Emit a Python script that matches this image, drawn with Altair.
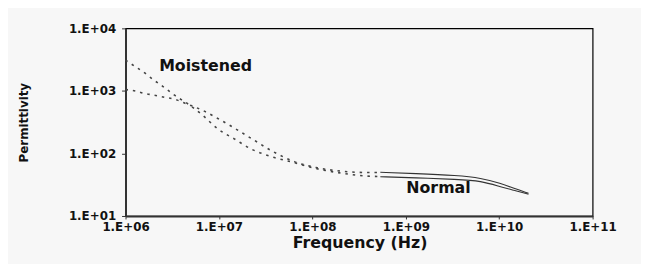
import altair as alt
import pandas as pd

# ---- data ----
lf_freq = [1.0e6, 1.28e6, 1.59e6, 1.98e6, 2.52e6, 3.38e6, 4.64e6, 6.68e6, 9.62e6,
           1.46e7, 2.26e7, 3.67e7, 6.42e7, 1.10e8, 2.01e8, 3.70e8, 5.34e8]
normal_lf = [1050, 995, 910, 861, 801, 731, 610, 490, 366,
             255, 171, 110, 74, 59.4, 52.3, 49.6, 49.6]
moist_lf = [3100, 2430, 1953, 1514, 1173, 846, 621, 409, 250,
            171, 116, 88.7, 71.3, 57.3, 48.6, 43.6, 42.8]

hf_freq = [5.34e8, 1.25e9, 3.56e9, 6.39e9, 1.04e10, 1.43e10, 2.06e10]
hf_upper = [50.1, 47.8, 44.4, 40.5, 33.2, 27.7, 23.1]
hf_lower = [42.4, 40.9, 38.4, 36.4, 29.2, 25.8, 22.3]

annot_text = ["Moistened", "Normal"]
annot_freq = [7.2e6, 2.24e9]
annot_perm = [2100, 23.1]

x_ticks = [1e6, 1e7, 1e8, 1e9, 1e10, 1e11]
x_tick_labels = ["1.E+06", "1.E+07", "1.E+08", "1.E+09", "1.E+10", "1.E+11"]
y_ticks = [1e1, 1e2, 1e3, 1e4]
y_tick_labels = ["1.E+01", "1.E+02", "1.E+03", "1.E+04"]

FONT = "DejaVu Sans"

lf = pd.DataFrame({
    "freq": lf_freq + lf_freq,
    "perm": normal_lf + moist_lf,
    "series": ["Normal"] * len(lf_freq) + ["Moistened"] * len(lf_freq),
})
hf = pd.DataFrame({
    "freq": hf_freq + hf_freq,
    "perm": hf_upper + hf_lower,
    "series": ["A"] * len(hf_freq) + ["B"] * len(hf_freq),
})
ann = pd.DataFrame({"text": annot_text, "freq": annot_freq, "perm": annot_perm})

def arr(labels):
    return "[" + ",".join("'%s'" % s for s in labels) + "]"

x_enc = alt.X(
    "freq:Q",
    scale=alt.Scale(type="log", domain=[1e6, 1e11], nice=False),
    axis=alt.Axis(
        values=x_ticks,
        labelExpr=arr(x_tick_labels) + "[round(log(datum.value)/LN10)-6]",
        title="Frequency (Hz)",
        titleFont=FONT, titleFontSize=16, titleFontWeight="bold", titleColor="#111",
        titleX=237, titleY=32, titleAlign="center", titleBaseline="alphabetic",
        labelFont=FONT, labelFontSize=12, labelFontWeight="bold", labelColor="#111",
        labelPadding=3, labelFlush=False, labelOverlap=False,
        tickSize=3, tickColor="#333", domainColor="#333", domainWidth=2, grid=False,
    ),
)
y_enc = alt.Y(
    "perm:Q",
    scale=alt.Scale(type="log", domain=[10, 10000], nice=False),
    axis=alt.Axis(
        values=y_ticks,
        labelExpr=arr(y_tick_labels) + "[round(log(datum.value)/LN10)-1]",
        title="Permittivity",
        titleFont=FONT, titleFontSize=12, titleFontWeight="bold", titleColor="#111",
        titleAngle=270, titleX=-103, titleY=95, titleAlign="center", titleBaseline="middle",
        labelFont=FONT, labelFontSize=12, labelFontWeight="bold", labelColor="#111",
        labelPadding=6, labelFlush=False, labelOverlap=False, labelBaseline="middle",
        tickSize=4, tickColor="#333", domainColor="#333", domainWidth=2, grid=False,
    ),
)

dotted = alt.Chart(lf).mark_line(
    strokeDash=[2.5, 5], strokeWidth=1.6, color="#444", interpolate="monotone"
).encode(x=x_enc, y=y_enc, detail="series:N")

solid = alt.Chart(hf).mark_line(
    strokeWidth=1.1, color="#333", interpolate="basis"
).encode(x="freq:Q", y="perm:Q", detail="series:N")

labels = alt.Chart(ann).mark_text(
    font=FONT, fontSize=16, fontWeight="bold", color="#111",
    align="center", baseline="alphabetic"
).encode(x="freq:Q", y="perm:Q", text="text:N")

chart = alt.layer(dotted, solid, labels).properties(
    width=473, height=190,
    autosize=alt.AutoSizeParams(type="none"),
    padding={"left": 119, "top": 19, "right": 49, "bottom": 47},
    background="#f7f7f7",
).configure_view(stroke="#000", strokeWidth=1.2)

chart.save("out.html", embed_options={"renderer": "svg", "actions": False})
